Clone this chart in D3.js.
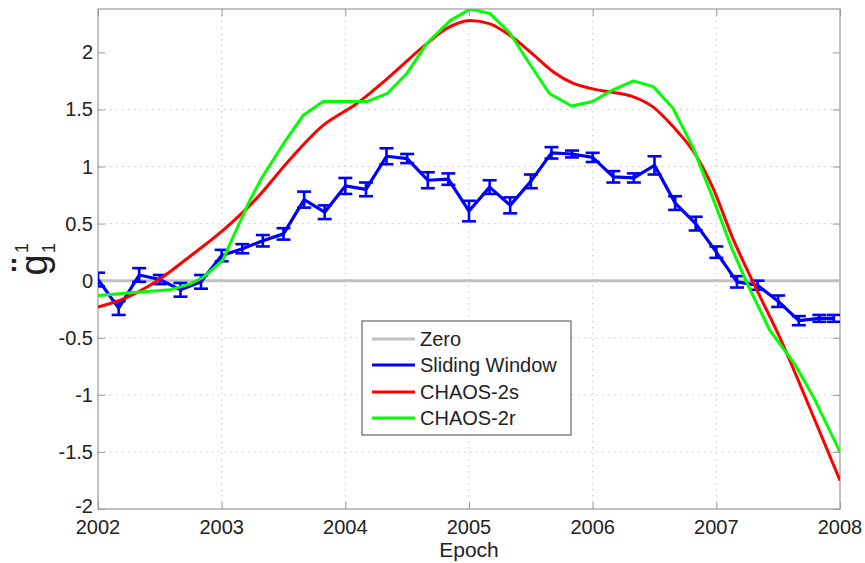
<!DOCTYPE html>
<html>
<head>
<meta charset="utf-8">
<script src="https://cdn.jsdelivr.net/npm/d3@7"></script>
<style>
  html, body { margin: 0; padding: 0; background: #fff; }
  svg { display: block; }
  text { font-family: "Liberation Sans", Arial, sans-serif; fill: #222; }
</style>
</head>
<body>
<svg id="chart" width="865" height="563"></svg>
<script>
// ---------------- DATA ----------------
const xTicks = [2002, 2003, 2004, 2005, 2006, 2007, 2008];
const yTicks = [-2, -1.5, -1, -0.5, 0, 0.5, 1, 1.5, 2];
const yTickLabels = ["-2", "-1.5", "-1", "-0.5", "0", "0.5", "1", "1.5", "2"];

// Sliding window estimates (epoch, value, error half-width)
const swEpoch = [2002.000, 2002.167, 2002.333, 2002.500, 2002.667, 2002.833,
                 2003.000, 2003.167, 2003.333, 2003.500, 2003.667, 2003.833,
                 2004.000, 2004.167, 2004.333, 2004.500, 2004.667, 2004.833,
                 2005.000, 2005.167, 2005.333, 2005.500, 2005.667, 2005.833,
                 2006.000, 2006.167, 2006.333, 2006.500, 2006.667, 2006.833,
                 2007.000, 2007.167, 2007.333, 2007.500, 2007.667, 2007.833, 2007.950];
const swValue = [0.01, -0.24, 0.05, 0.01, -0.08, -0.01,
                 0.22, 0.28, 0.35, 0.41, 0.71, 0.60,
                 0.83, 0.80, 1.09, 1.07, 0.88, 0.89,
                 0.61, 0.82, 0.66, 0.87, 1.12, 1.11,
                 1.08, 0.91, 0.90, 1.01, 0.68, 0.50,
                 0.25, -0.01, -0.04, -0.18, -0.35, -0.33, -0.33];
const swError = [0.06, 0.06, 0.06, 0.04, 0.06, 0.06,
                 0.05, 0.04, 0.05, 0.05, 0.07, 0.06,
                 0.07, 0.06, 0.07, 0.04, 0.07, 0.05,
                 0.09, 0.06, 0.07, 0.06, 0.05, 0.03,
                 0.04, 0.05, 0.04, 0.08, 0.06, 0.06,
                 0.05, 0.05, 0.04, 0.05, 0.04, 0.03, 0.03];

// CHAOS-2s
const c2sEpoch = [2002.00, 2002.18, 2002.48, 2002.74, 2003.01, 2003.29, 2003.55, 2003.82,
                  2004.09, 2004.36, 2004.63, 2004.82, 2005.01, 2005.17, 2005.33, 2005.52,
                  2005.68, 2005.84, 2006.00, 2006.16, 2006.33, 2006.49, 2006.65, 2006.81,
                  2006.97, 2007.13, 2007.30, 2007.51, 2007.75, 2008.00];
const c2sValue = [-0.23, -0.17, 0.00, 0.21, 0.44, 0.73, 1.06, 1.36,
                  1.55, 1.79, 2.05, 2.21, 2.28, 2.25, 2.15, 1.98,
                  1.83, 1.73, 1.68, 1.65, 1.61, 1.52, 1.35, 1.14,
                  0.82, 0.38, -0.02, -0.49, -1.10, -1.75];

// CHAOS-2r
const c2rEpoch = [2002.00, 2002.34, 2002.58, 2002.74, 2002.85, 2003.01, 2003.07, 2003.23,
                  2003.33, 2003.50, 2003.66, 2003.82, 2003.98, 2004.18, 2004.34, 2004.50,
                  2004.66, 2004.85, 2005.01, 2005.17, 2005.33, 2005.49, 2005.65, 2005.83,
                  2006.00, 2006.16, 2006.33, 2006.49, 2006.65, 2006.81, 2006.97, 2007.13,
                  2007.26, 2007.43, 2007.64, 2007.80, 2008.00];
const c2rValue = [-0.13, -0.10, -0.08, -0.03, 0.03, 0.18, 0.33, 0.71,
                  0.91, 1.20, 1.45, 1.57, 1.57, 1.57, 1.64, 1.82,
                  2.08, 2.28, 2.38, 2.34, 2.17, 1.90, 1.64, 1.53,
                  1.57, 1.67, 1.75, 1.70, 1.51, 1.17, 0.73, 0.27,
                  -0.05, -0.43, -0.74, -1.05, -1.50];

const legendLabels = ["Zero", "Sliding Window", "CHAOS-2s", "CHAOS-2r"];
const legendColors = ["#c0c0c0", "#0000ff", "#ff0000", "#00ff00"];

// ---------------- CHART ----------------
const svg = d3.select("#chart");
const L = 98, R = 840, T = 9, B = 509;
const x = d3.scaleLinear().domain([2002, 2008]).range([L, R]);
const y = d3.scaleLinear().domain([-2, 2.38]).range([B, T]);

svg.append("defs").append("clipPath").attr("id", "clip")
  .append("rect").attr("x", L).attr("y", T).attr("width", R - L).attr("height", B - T);

// grid
const grid = svg.append("g").attr("stroke", "#c8c8c8").attr("stroke-width", 1)
  .attr("stroke-dasharray", "1.5,4.5");
grid.selectAll(".gx").data(xTicks.slice(1, -1)).join("line")
  .attr("x1", d => x(d)).attr("x2", d => x(d)).attr("y1", T).attr("y2", B);
grid.selectAll(".gy").data(yTicks.slice(1, -1)).join("line")
  .attr("y1", d => y(d)).attr("y2", d => y(d)).attr("x1", L).attr("x2", R);

// frame + ticks via d3 axes
const axColor = "#9a9a9a";
function styleAxis(g) {
  g.select(".domain").remove();
  g.selectAll(".tick line").attr("stroke", axColor);
  g.selectAll(".tick text").remove();
}
svg.append("g").attr("transform", `translate(0,${B})`)
  .call(d3.axisBottom(x).tickValues(xTicks).tickSizeInner(-7).tickSizeOuter(0)).call(styleAxis);
svg.append("g").attr("transform", `translate(0,${T})`)
  .call(d3.axisTop(x).tickValues(xTicks).tickSizeInner(-7).tickSizeOuter(0)).call(styleAxis);
svg.append("g").attr("transform", `translate(${L},0)`)
  .call(d3.axisLeft(y).tickValues(yTicks).tickSizeInner(-7).tickSizeOuter(0)).call(styleAxis);
svg.append("g").attr("transform", `translate(${R},0)`)
  .call(d3.axisRight(y).tickValues(yTicks).tickSizeInner(-7).tickSizeOuter(0)).call(styleAxis);

svg.append("rect").attr("x", L).attr("y", T).attr("width", R - L).attr("height", B - T)
  .attr("fill", "none").attr("stroke", axColor).attr("stroke-width", 1.2);

// tick labels
svg.append("g").selectAll("text").data(xTicks).join("text")
  .attr("x", d => x(d)).attr("y", B + 25).attr("text-anchor", "middle")
  .attr("font-size", 20).text(d => d);
svg.append("g").selectAll("text").data(yTicks).join("text")
  .attr("x", L - 5).attr("y", d => y(d) + 7 - (d === -2 ? 3 : 0)).attr("text-anchor", "end")
  .attr("font-size", 20).text((d, i) => yTickLabels[i]);

// axis labels
svg.append("text").attr("x", 469).attr("y", 557).attr("text-anchor", "middle")
  .attr("font-size", 21).text("Epoch");

const yl = svg.append("g").attr("transform", "translate(47,265) rotate(-90)");
yl.append("text").attr("x", 0).attr("y", 0).attr("text-anchor", "middle")
  .attr("font-size", 38).text("g");
yl.append("text").attr("x", 0).attr("y", -8).attr("text-anchor", "middle")
  .attr("font-size", 38).attr("font-weight", "bold").text("\u00A8");
yl.append("text").attr("x", 12).attr("y", -19).attr("text-anchor", "start")
  .attr("font-size", 18).text("1");
yl.append("text").attr("x", 12).attr("y", 8).attr("text-anchor", "start")
  .attr("font-size", 18).text("1");

// plot content
const plot = svg.append("g").attr("clip-path", "url(#clip)");

plot.append("line").attr("x1", L).attr("x2", R).attr("y1", y(0)).attr("y2", y(0))
  .attr("stroke", legendColors[0]).attr("stroke-width", 3);

const sw = swEpoch.map((e, i) => ({e, v: swValue[i], s: swError[i]}));
const lineFn = d3.line().x(d => x(d.e)).y(d => y(d.v));

plot.append("path").datum(sw).attr("d", lineFn).attr("fill", "none")
  .attr("stroke", legendColors[1]).attr("stroke-width", 3.2).attr("stroke-linejoin", "round");
const eb = plot.append("g").attr("stroke", legendColors[1]).attr("stroke-width", 2.6);
const capW = 7;
eb.selectAll(".v").data(sw).join("line")
  .attr("x1", d => x(d.e)).attr("x2", d => x(d.e))
  .attr("y1", d => y(d.v - d.s)).attr("y2", d => y(d.v + d.s));
eb.selectAll(".t").data(sw).join("line")
  .attr("x1", d => x(d.e) - capW).attr("x2", d => x(d.e) + capW)
  .attr("y1", d => y(d.v + d.s)).attr("y2", d => y(d.v + d.s));
eb.selectAll(".b").data(sw).join("line")
  .attr("x1", d => x(d.e) - capW).attr("x2", d => x(d.e) + capW)
  .attr("y1", d => y(d.v - d.s)).attr("y2", d => y(d.v - d.s));

const c2s = c2sEpoch.map((e, i) => ({e, v: c2sValue[i]}));
plot.append("path").datum(c2s).attr("d", d3.line().x(d => x(d.e)).y(d => y(d.v)).curve(d3.curveMonotoneX))
  .attr("fill", "none").attr("stroke", legendColors[2]).attr("stroke-width", 3);

const c2r = c2rEpoch.map((e, i) => ({e, v: c2rValue[i]}));
plot.append("path").datum(c2r).attr("d", lineFn)
  .attr("fill", "none").attr("stroke", legendColors[3]).attr("stroke-width", 3)
  .attr("stroke-linejoin", "round");

// legend
const lg = svg.append("g");
lg.append("rect").attr("x", 362).attr("y", 321).attr("width", 209).attr("height", 114)
  .attr("fill", "#fff").attr("stroke", "#666").attr("stroke-width", 1.2);
const rowY = [339, 365, 392, 418];
legendLabels.forEach((lab, i) => {
  lg.append("line").attr("x1", 372).attr("x2", 415).attr("y1", rowY[i]).attr("y2", rowY[i])
    .attr("stroke", legendColors[i]).attr("stroke-width", 3);
  lg.append("text").attr("x", 420).attr("y", rowY[i] + 7).attr("font-size", 20).text(lab);
});
</script>
</body>
</html>
